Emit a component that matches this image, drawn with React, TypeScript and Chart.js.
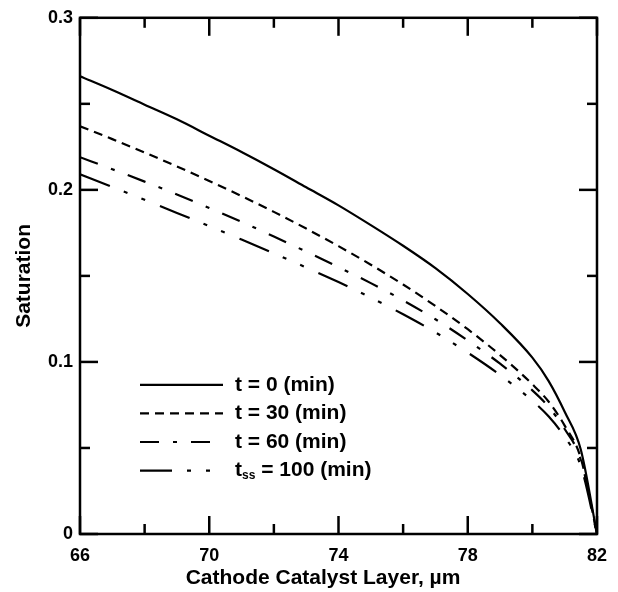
import React, { useEffect, useRef } from 'react';
import { Chart, registerables } from 'chart.js';

Chart.register(...registerables);

// ---- data ----
const xValues = [66, 67, 68, 69, 70, 71, 72, 73, 74, 75, 76, 77, 78, 79, 80, 80.5, 81, 81.5, 82];
const satT0 = [0.266, 0.258, 0.2495, 0.241, 0.2315, 0.222, 0.212, 0.2015, 0.191, 0.1795, 0.1675, 0.1545, 0.1395, 0.1225, 0.1025, 0.089, 0.071, 0.049, 0];
const satT30 = [0.237, 0.2295, 0.2217, 0.2136, 0.2052, 0.1964, 0.1872, 0.1775, 0.1673, 0.1565, 0.145, 0.1325, 0.119, 0.104, 0.087, 0.077, 0.063, 0.044, 0];
const satT60 = [0.219, 0.212, 0.2048, 0.1973, 0.1895, 0.1814, 0.1729, 0.1641, 0.1551, 0.1458, 0.1358, 0.1248, 0.1125, 0.099, 0.0835, 0.074, 0.061, 0.043, 0];
const satT100 = [0.209, 0.2017, 0.1942, 0.1866, 0.1789, 0.1711, 0.1631, 0.1549, 0.1464, 0.1374, 0.1277, 0.1172, 0.1054, 0.0924, 0.0774, 0.0684, 0.0564, 0.0394, 0];

const seriesNames = ['t = 0 (min)', 't = 30 (min)', 't = 60 (min)', 'tss = 100 (min)'];

const xMajorTicks = [66, 70, 74, 78, 82];
const xMinorTicks = [68, 72, 76, 80];
const yMajorTicks = [0, 0.1, 0.2, 0.3];
const yMinorTicks = [0.05, 0.15, 0.25];
const yTickLabels = ['0', '0.1', '0.2', '0.3'];

const xTitle = 'Cathode Catalyst Layer, \u00b5m';
const yTitle = 'Saturation';

const FONT = '"Liberation Sans", Arial, Helvetica, sans-serif';

const dashes: number[][] = [[], [9, 6], [19, 14, 4, 14], [32, 15, 4, 15, 4, 16]];

const framePlugin = {
  id: 'framePlugin',
  afterDraw(chart: any) {
    const { ctx, chartArea: a, scales } = chart;
    const xs = scales.x;
    const ys = scales.y;
    ctx.save();
    ctx.strokeStyle = '#000';
    ctx.setLineDash([]);
    ctx.lineWidth = 2.5;
    ctx.lineCap = 'butt';
    ctx.strokeRect(a.left, a.top, a.right - a.left, a.bottom - a.top);
    const seg = (x1: number, y1: number, x2: number, y2: number) => {
      ctx.beginPath();
      ctx.moveTo(x1, y1);
      ctx.lineTo(x2, y2);
      ctx.stroke();
    };
    const xt = (vals: number[], len: number) => {
      for (const v of vals) {
        const p = xs.getPixelForValue(v);
        seg(p, a.bottom, p, a.bottom - len);
        seg(p, a.top, p, a.top + len);
      }
    };
    const yt = (vals: number[], len: number) => {
      for (const v of vals) {
        const p = ys.getPixelForValue(v);
        seg(a.left, p, a.left + len, p);
        seg(a.right, p, a.right - len, p);
      }
    };
    xt(xMajorTicks, 18);
    xt(xMinorTicks, 10);
    yt(yMajorTicks, 18);
    yt(yMinorTicks, 10);

    // x title
    ctx.fillStyle = '#000';
    ctx.font = `bold 21px ${FONT}`;
    ctx.textAlign = 'center';
    ctx.textBaseline = 'middle';
    ctx.fillText(xTitle, a.left + (a.right - a.left) * 0.47, 578);

    // legend
    const lx1 = a.left + 60;
    const lx2 = a.left + 143;
    const tx = a.left + 155;
    const y0 = a.top + 367;
    const step = 28.6;
    chart.data.datasets.forEach((ds: any, i: number) => {
      const y = y0 + i * step;
      ctx.lineWidth = 2.2;
      ctx.setLineDash(ds.borderDash || []);
      seg(lx1, y, lx2, y);
      ctx.setLineDash([]);
      ctx.textAlign = 'left';
      ctx.textBaseline = 'middle';
      const label: string = ds.label;
      if (label.startsWith('tss')) {
        ctx.font = `bold 21px ${FONT}`;
        ctx.fillText('t', tx, y);
        let w = ctx.measureText('t').width;
        ctx.font = `bold 12px ${FONT}`;
        ctx.fillText('ss', tx + w, y + 5);
        w += ctx.measureText('ss').width;
        ctx.font = `bold 21px ${FONT}`;
        ctx.fillText(label.slice(3), tx + w, y);
      } else {
        ctx.font = `bold 21px ${FONT}`;
        ctx.fillText(label, tx, y);
      }
    });
    ctx.restore();
  },
};

export default function App() {
  const ref = useRef<HTMLCanvasElement | null>(null);
  useEffect(() => {
    if (!ref.current) return;
    const series = [satT0, satT30, satT60, satT100];
    const chart = new Chart(ref.current, {
      type: 'line',
      data: {
        datasets: series.map((s, i) => ({
          label: seriesNames[i],
          data: xValues.map((x, j) => ({ x, y: s[j] })),
          borderColor: '#000',
          borderWidth: 2.2,
          borderDash: dashes[i],
          pointRadius: 0,
          fill: false,
          cubicInterpolationMode: 'monotone',
        })),
      },
      options: {
        responsive: false,
        animation: false,
        events: [],
        layout: { padding: { left: 0, top: 15, right: 19, bottom: 0 } },
        plugins: { legend: { display: false }, tooltip: { enabled: false } },
        scales: {
          x: {
            type: 'linear',
            min: 66,
            max: 82,
            afterBuildTicks: (scale: any) => {
              scale.ticks = xMajorTicks.map((v) => ({ value: v }));
            },
            afterFit: (scale: any) => {
              scale.height = 58;
            },
            grid: { display: false, drawTicks: false },
            border: { display: false },
            ticks: {
              color: '#000',
              padding: 11,
              maxRotation: 0,
              autoSkip: false,
              font: { family: FONT, size: 18, weight: 'bold' },
              callback: (v: any) => String(v),
            },
          },
          y: {
            type: 'linear',
            min: 0,
            max: 0.3,
            afterBuildTicks: (scale: any) => {
              scale.ticks = yMajorTicks.map((v) => ({ value: v }));
            },
            afterFit: (scale: any) => {
              scale.width = 80;
            },
            grid: { display: false, drawTicks: false },
            border: { display: false },
            ticks: {
              color: '#000',
              padding: 7,
              autoSkip: false,
              font: { family: FONT, size: 18, weight: 'bold' },
              callback: (v: any) => {
                const idx = yMajorTicks.findIndex((t) => Math.abs(t - Number(v)) < 1e-9);
                return idx >= 0 ? yTickLabels[idx] : '';
              },
            },
            title: {
              display: true,
              text: yTitle,
              color: '#000',
              padding: { top: 12, bottom: 0 },
              font: { family: FONT, size: 21, weight: 'bold' },
            },
          },
        },
      },
      plugins: [framePlugin],
    } as any);
    return () => chart.destroy();
  }, []);
  return (
    <div style={{ position: 'fixed', left: 0, top: 0, width: 618, height: 592, background: '#fff' }}>
      <canvas ref={ref} width={618} height={592} style={{ display: 'block' }} />
    </div>
  );
}
